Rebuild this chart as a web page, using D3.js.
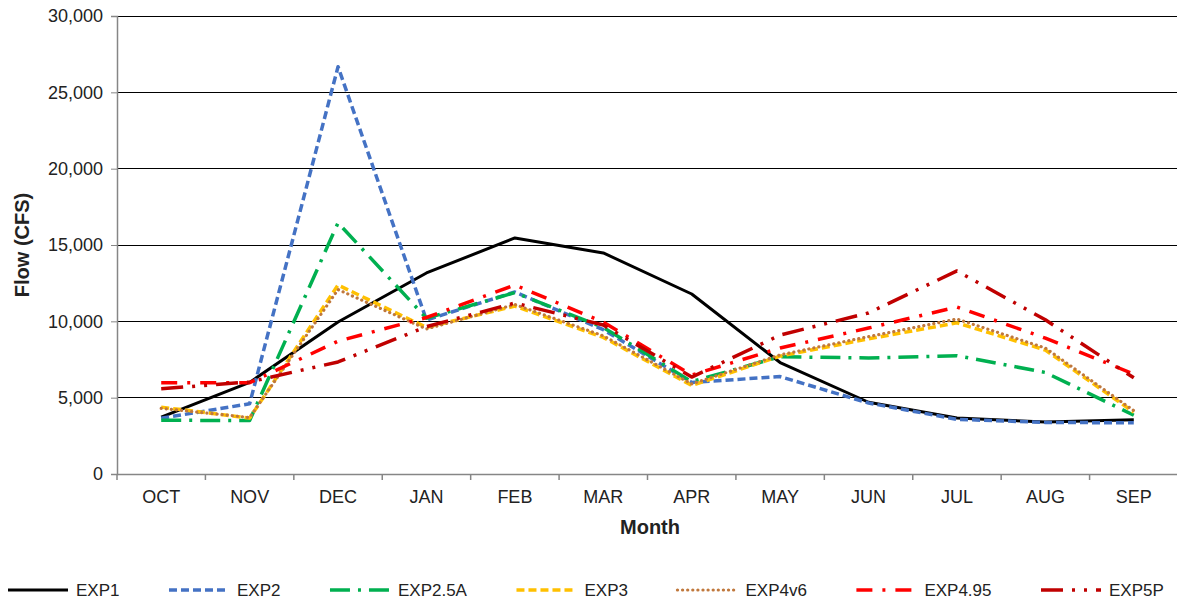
<!DOCTYPE html>
<html><head><meta charset="utf-8">
<script src="https://cdn.jsdelivr.net/npm/d3@7"></script>
<style>body{margin:0;background:#fff;} text{font-family:"Liberation Sans",Arial,sans-serif;fill:#222;}</style>
</head><body>
<svg id="chart" width="1177" height="603"></svg>
<script>
const months = ["OCT","NOV","DEC","JAN","FEB","MAR","APR","MAY","JUN","JUL","AUG","SEP"];
const yTicks = [0,5000,10000,15000,20000,25000,30000];
const seriesNames = ["EXP1","EXP2","EXP2.5A","EXP3","EXP4v6","EXP4.95","EXP5P"];
const exp1   = [3730,6000,9960,13170,15460,14480,11790,7300,4700,3670,3400,3550];
const exp2   = [3650,4600,26680,10090,11920,9450,6000,6380,4650,3580,3380,3350];
const exp25a = [3520,3500,16450,10200,11880,9600,6050,7680,7600,7750,6650,3850];
const exp3   = [4380,3660,12380,9600,11000,8950,5800,7720,8850,9900,8120,4050];
const exp4v6 = [4300,3700,12080,9500,11100,9050,5900,7800,9000,10150,8250,4150];
const exp495 = [5980,5980,8700,10250,12380,9950,6480,8250,9560,10940,8900,6550];
const exp5p  = [5580,6030,7340,9650,11200,9760,6350,9100,10550,13300,10100,6300];
const seriesValues = [exp1,exp2,exp25a,exp3,exp4v6,exp495,exp5p];

const styles = [
  {color:"#000000", dash:null, w:3, cap:"butt"},
  {color:"#4472C4", dash:"8 4", w:3.5, cap:"butt"},
  {color:"#00B050", dash:"20 8 3 8", w:3.5, cap:"butt"},
  {color:"#FFC000", dash:"8 4", w:3.5, cap:"butt"},
  {color:"#C0783C", dash:"0.1 5", w:3.2, cap:"round"},
  {color:"#FF0000", dash:"16 10 3 10", w:3.5, cap:"butt"},
  {color:"#C00000", dash:"22 9 3 9 3 9", w:3.5, cap:"butt"}
];

const svg = d3.select("#chart");
const pL = 117, pR = 1178, pT = 16, pB = 474;
const x = d3.scaleBand().domain(months).range([pL, pR]);
const y = d3.scaleLinear().domain([0,30000]).range([pB, pT]);

// gridlines
svg.append("g").selectAll("line").data(yTicks.filter(d=>d>0)).join("line")
  .attr("x1", pL).attr("x2", pR).attr("y1", d=>y(d)).attr("y2", d=>y(d))
  .attr("stroke", "#000").attr("stroke-width", 1).attr("shape-rendering","crispEdges");

// y axis
const yAxis = svg.append("g").attr("transform", `translate(${pL},0)`)
  .call(d3.axisLeft(y).tickValues(yTicks).tickFormat(d3.format(",")).tickSize(6).tickPadding(8));
yAxis.select(".domain").attr("stroke","#868686").attr("stroke-width",1.5);
yAxis.selectAll(".tick line").attr("stroke","#868686");
yAxis.selectAll("text").style("font-size","18px").style("font-family","'Liberation Sans',Arial,sans-serif").attr("fill","#333");

// x axis
const xAxis = svg.append("g").attr("transform", `translate(0,${pB})`)
  .call(d3.axisBottom(x).tickSize(0).tickPadding(16));
xAxis.select(".domain").attr("stroke","#868686").attr("stroke-width",1.5);
xAxis.selectAll("text").style("font-size","18px").style("font-family","'Liberation Sans',Arial,sans-serif").attr("fill","#222");
// band boundary tick marks
svg.append("g").selectAll("line").data(months.map(m=>x(m)).concat([pR])).join("line")
  .attr("x1", d=>d).attr("x2", d=>d).attr("y1", pB).attr("y2", pB+6)
  .attr("stroke","#868686").attr("stroke-width",1.5);

// axis titles
svg.append("text").attr("x", 650).attr("y", 534).attr("text-anchor","middle")
  .style("font-size","20px").style("font-weight","bold").text("Month");
svg.append("text").attr("transform","translate(29,245) rotate(-90)").attr("text-anchor","middle")
  .style("font-size","20px").style("font-weight","bold").text("Flow (CFS)");

// lines
const line = d3.line().x((d,i)=>x(months[i]) + x.bandwidth()/2).y(d=>y(d));
seriesValues.forEach((vals,i)=>{
  svg.append("path").datum(vals).attr("d", line).attr("fill","none")
    .attr("stroke", styles[i].color).attr("stroke-width", styles[i].w)
    .attr("stroke-dasharray", styles[i].dash)
    .attr("stroke-linecap", styles[i].cap)
    .attr("stroke-linejoin","round");
});

// legend
const lg = svg.append("g");
let lx = 8;
const ly = 590;
seriesNames.forEach((name,i)=>{
  lg.append("line").attr("x1", lx).attr("x2", lx+60).attr("y1", ly).attr("y2", ly)
    .attr("stroke", styles[i].color).attr("stroke-width", styles[i].w)
    .attr("stroke-dasharray", styles[i].dash)
    .attr("stroke-linecap", styles[i].cap);
  const t = lg.append("text").attr("x", lx+68).attr("y", ly+6).style("font-size","17px").text(name);
  const w = t.node().getComputedTextLength();
  lx += 68 + w + 49.5;
});
</script>
</body></html>
